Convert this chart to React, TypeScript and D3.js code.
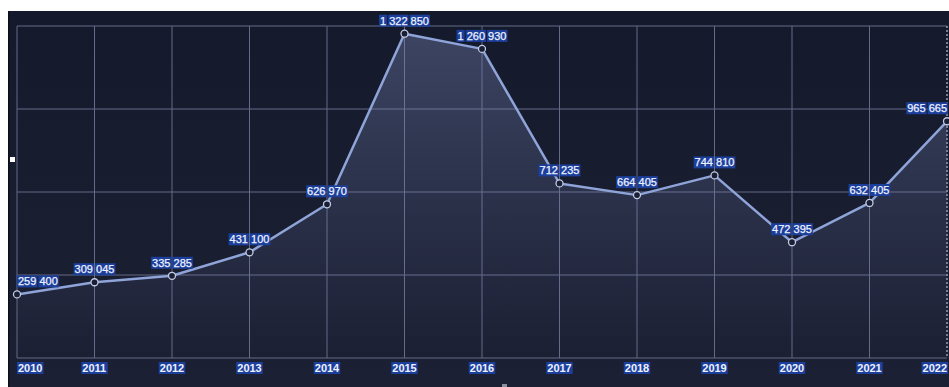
import React from "react";
import * as d3 from "d3";

const years = ["2010","2011","2012","2013","2014","2015","2016","2017","2018","2019","2020","2021","2022"];
const values = [259400, 309045, 335285, 431100, 626970, 1322850, 1260930, 712235, 664405, 744810, 472395, 632405, 965665];
const yMax = 1354300;
const gridCount = 4;

const W = 949, H = 387;
const left = 17, right = 947, top = 26, bottom = 358;
const FS = 11;
const DIGIT = FS * 0.556, SPACE = FS * 0.278;

const fmt = (v: number) => d3.format(",")(v).replace(/,/g, " ");

function wordWidth(w: string) {
  let s = 0;
  for (const c of w) s += c === " " ? SPACE : DIGIT;
  return s;
}

function Label({ text, cx, cy, bold }: { text: string; cx: number; cy: number; bold?: boolean }) {
  const words = text.split(" ");
  const total = wordWidth(text);
  let x0 = cx - total / 2;
  x0 = Math.max(left + 1, Math.min(right - total, x0));
  const items: { w: string; x: number; width: number }[] = [];
  let x = x0;
  words.forEach((w, i) => {
    const ww = wordWidth(w);
    items.push({ w, x, width: ww });
    x += ww + (i < words.length - 1 ? SPACE : 0);
  });
  return (
    <g>
      {items.map((it, i) => (
        <rect key={"r" + i} x={it.x - 1} y={cy - 6} width={it.width + 2} height={12} fill="#1c3f9c" />
      ))}
      {items.map((it, i) => (
        <text key={"t" + i} x={it.x} y={cy + 4} fontSize={FS} fontWeight={bold ? "bold" : "normal"}
          fontFamily="'Liberation Sans', Arial, sans-serif" fill="#eef2ff"
          stroke="#eef2ff" strokeWidth={bold ? 0 : 0.25}>{it.w}</text>
      ))}
    </g>
  );
}

export default function App() {
  const x = d3.scalePoint<string>().domain(years).range([left, right]);
  const y = d3.scaleLinear().domain([0, yMax]).range([bottom, top]);
  const data = years.map((yr, i) => ({ yr, v: values[i] }));
  const line = d3.line<{ yr: string; v: number }>().x(d => x(d.yr)!).y(d => y(d.v));
  const area = d3.area<{ yr: string; v: number }>().x(d => x(d.yr)!).y0(bottom).y1(d => y(d.v));
  const grid = d3.range(0, gridCount + 1).map(i => (yMax * i) / gridCount);

  return (
    <svg width={W} height={H} style={{ position: "absolute", left: 0, top: 0, display: "block" }}>
      <defs>
        <linearGradient id="bg" x1="0" y1="0" x2="0" y2="1">
          <stop offset="0" stopColor="#141a2b" />
          <stop offset="1" stopColor="#1c2034" />
        </linearGradient>
        <linearGradient id="af" gradientUnits="userSpaceOnUse" x1="0" y1={top} x2="0" y2={bottom}>
          <stop offset="0" stopColor="#7480b0" stopOpacity={0.42} />
          <stop offset="1" stopColor="#7480b0" stopOpacity={0.0} />
        </linearGradient>
      </defs>
      <rect x={0} y={0} width={W} height={H} fill="#ffffff" />
      <rect x={8} y={11} width={W - 8} height={H - 11} fill="url(#bg)" />
      <rect x={8} y={11} width={1.5} height={H - 11} fill="#0c0f1a" />
      {grid.map((g, i) => (
        <line key={"h" + i} x1={left} x2={right} y1={y(g)} y2={y(g)} stroke="#646b88" strokeWidth={1} />
      ))}
      {years.map((yr, i) => (
        <line key={"v" + i} x1={x(yr)} x2={x(yr)} y1={top} y2={bottom}
          stroke={i === years.length - 1 ? "#9aa0b8" : "#646b88"} strokeWidth={i === years.length - 1 ? 1.5 : 1}
          strokeDasharray={i === years.length - 1 ? "2,2" : undefined} />
      ))}
      <path d={area(data)!} fill="url(#af)" />
      <path d={line(data)!} fill="none" stroke="#8fa4d8" strokeWidth={2.5} strokeLinejoin="round" />
      {data.map((d, i) => (
        <circle key={"c" + i} cx={x(d.yr)} cy={y(d.v)} r={3.5} fill="#1a1f33" stroke="#c2cbe6" strokeWidth={1.3} />
      ))}
      {data.map((d, i) => (
        <Label key={"l" + i} text={fmt(d.v)} cx={x(d.yr)!} cy={y(d.v) - 13} />
      ))}
      {years.map((yr, i) => (
        <Label key={"a" + i} text={yr} cx={x(yr)!} cy={368} bold />
      ))}
      <rect x={10} y={157} width={5} height={5} fill="#ffffff" />
      <rect x={502} y={384} width={5} height={3} fill="#8a8f9e" />
    </svg>
  );
}
